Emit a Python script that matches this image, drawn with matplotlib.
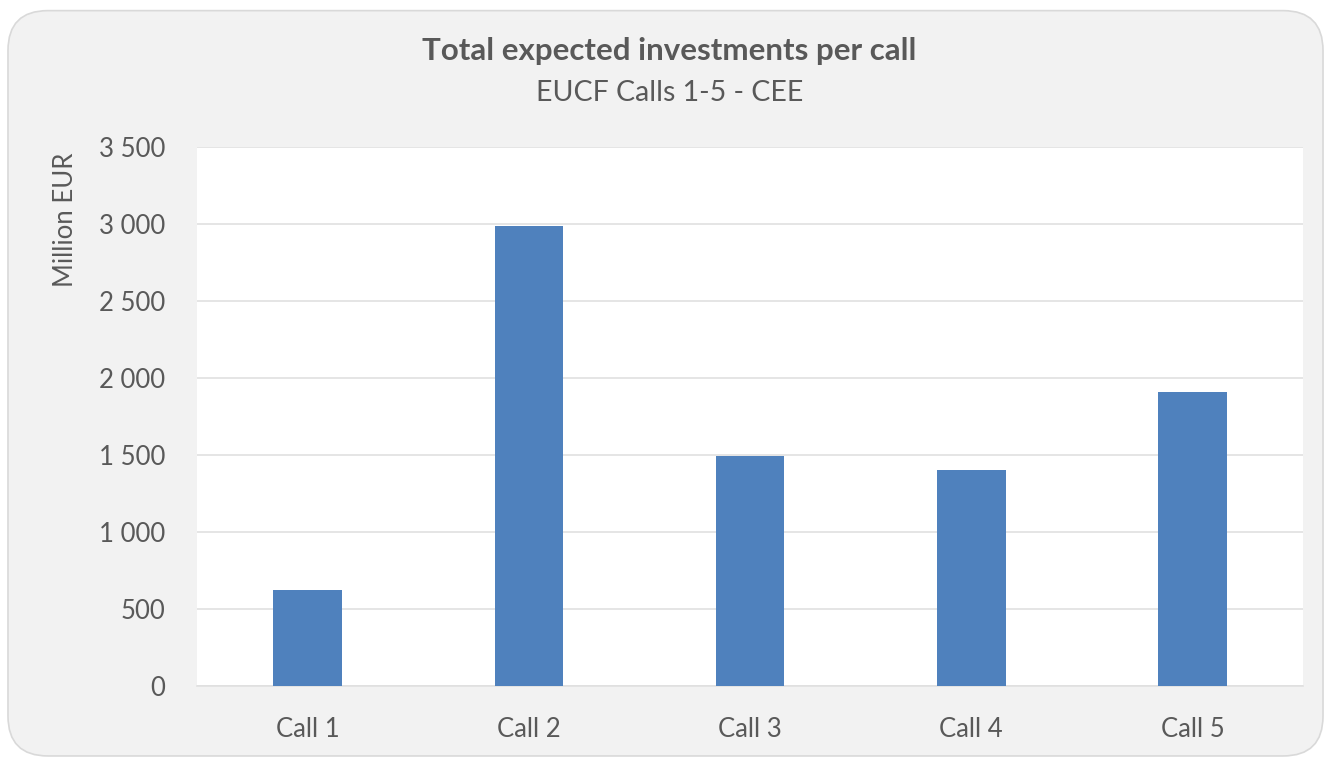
import matplotlib
matplotlib.use('Agg')
import matplotlib.pyplot as plt
from matplotlib.patches import FancyBboxPatch
from matplotlib.ticker import FuncFormatter

plt.rcParams['font.family'] = ['Lato', 'DejaVu Sans']

calls = ['Call 1', 'Call 2', 'Call 3', 'Call 4', 'Call 5']
investments = [623, 2987, 1494, 1403, 1909]  # million EUR
yticks = [0, 500, 1000, 1500, 2000, 2500, 3000, 3500]

txt = '#595959'

fig = plt.figure(figsize=(13.31, 7.59), dpi=100)
fig.patch.set_facecolor('white')

# rounded chart frame, drawn behind the axes
frame = FancyBboxPatch((0.006, 0.004), 0.988, 0.982, boxstyle='round,pad=0,rounding_size=0.03',
                       transform=fig.transFigure, facecolor='#F2F2F2', edgecolor='#D9D9D9',
                       linewidth=1.2, mutation_aspect=1331/759, zorder=-5)
fig.patches.append(frame)

ax = fig.add_axes([0.148, 0.0962, 0.831, 0.7101])
ax.set_zorder(2)
ax.set_facecolor('white')
ax.bar(range(len(calls)), investments, width=0.31, color='#4F81BD', zorder=3)

ax.set_xlim(-0.5, len(calls) - 0.5)
ax.set_ylim(0, 3500)
ax.set_yticks(yticks)
ax.yaxis.set_major_formatter(FuncFormatter(lambda v, p: f'{int(v):,}'.replace(',', ' ')))
ax.set_xticks(range(len(calls)))
ax.set_xticklabels(calls)
ax.grid(axis='y', color='#E0E0E0', linewidth=1.2, zorder=0)
ax.tick_params(axis='both', length=0, labelsize=18.5, labelcolor=txt)
ax.tick_params(axis='x', pad=22)
ax.tick_params(axis='y', pad=23)
for s in ['top', 'right', 'left']:
    ax.spines[s].set_visible(False)
ax.spines['bottom'].set_color('#E0E0E0')
ax.spines['bottom'].set_linewidth(1.2)

# axis title sits near the top, like the original
ax.set_ylabel('Million EUR', fontsize=18.5, color=txt)
ax.yaxis.set_label_coords(-0.108, 0.865)

fig.text(0.503, 0.933, 'Total expected investments per call', ha='center', va='center',
         fontsize=22.5, fontweight='bold', color=txt)
fig.text(0.503, 0.877, 'EUCF Calls 1-5 - CEE', ha='center', va='center',
         fontsize=20.5, color=txt)

fig.savefig('out.png', dpi=100, facecolor=fig.get_facecolor())
